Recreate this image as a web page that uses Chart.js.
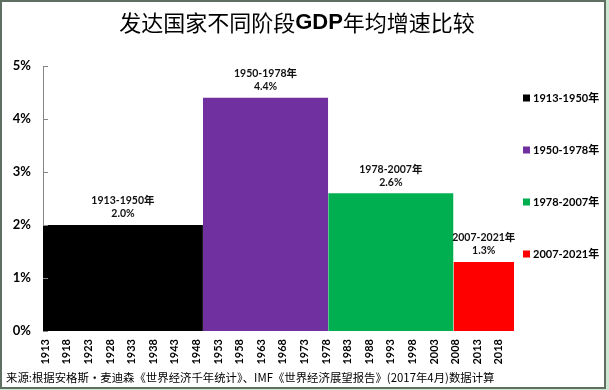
<!DOCTYPE html>
<html lang="zh">
<head>
    <meta charset="UTF-8">
    <title>发达国家不同阶段GDP年均增速比较</title>
    <style>
        body { margin: 0; background: #ffffff; }
    </style>
</head>
<body>
    <canvas id="myChart" width="609" height="390"></canvas>

    <script src="https://cdn.jsdelivr.net/npm/chart.js"></script>
    <script>
        // 数据
        const firstYear = 1913;
        const lastYear = 2021;
        const periods = ['1913-1950', '1950-1978', '1978-2007', '2007-2021'];
        const periodFrom = [1913, 1950, 1979, 2008];
        const periodTo = [1949, 1978, 2007, 2021];
        const growth = [2.0, 4.4, 2.6, 1.3];
        const colors = ['#000000', '#7030A0', '#00B050', '#FF0000'];
        const tickYears = [1913, 1918, 1923, 1928, 1933, 1938, 1943, 1948, 1953, 1958, 1963,
                           1968, 1973, 1978, 1983, 1988, 1993, 1998, 2003, 2008, 2013, 2018];
        const yTicks = [0, 1, 2, 3, 4, 5];
        const source = '来源:根据安格斯·麦迪森《世界经济千年统计》、IMF《世界经济展望报告》(2017年4月)数据计算';

        const FONT = "Lato, 'Noto Sans CJK SC', sans-serif";

        // 每个阶段一块：从起始年的左边到结束年的右边（每年占一格）
        let datasets = periods.map((p, i) => ({
            label: p + '年',
            data: [
                { x: periodFrom[i] - 0.5, y: growth[i] },
                { x: periodTo[i] + 0.5, y: growth[i] },
            ],
            backgroundColor: colors[i],
            borderColor: colors[i],
            borderWidth: 0,
            pointRadius: 0,
            fill: 'origin',
        }));

        // 边框、标题、图例、数据标签、来源
        const decor = {
            id: 'decor',
            beforeDraw(chart) {
                const c = chart.ctx;
                c.save();
                c.fillStyle = '#cce8d0';
                c.fillRect(0, 0, chart.width, chart.height);
                c.fillStyle = '#5f6f61';
                c.fillRect(0, 0, 606, 389);
                c.fillStyle = '#ffffff';
                c.fillRect(2, 2, 602, 385);
                c.restore();
            },
            afterDraw(chart) {
                const c = chart.ctx;
                const area = chart.chartArea;
                const xs = chart.scales.x;
                const ys = chart.scales.y;
                c.save();

                // y轴内侧刻度
                c.strokeStyle = '#868686';
                c.lineWidth = 1;
                yTicks.forEach(v => {
                    const py = Math.round(ys.getPixelForValue(v)) + 0.5;
                    c.beginPath();
                    c.moveTo(area.left, py);
                    c.lineTo(area.left + 5, py);
                    c.stroke();
                });

                // 标题
                const parts = [
                    ['发达国家不同阶段', "22px 'Noto Sans CJK SC'"],
                    ['GDP', "bold 22px 'Liberation Sans'"],
                    ['年均增速比较', "22px 'Noto Sans CJK SC'"],
                ];
                let total = 0;
                parts.forEach(p => { c.font = p[1]; total += c.measureText(p[0]).width; });
                let x = 297 - total / 2;
                c.fillStyle = '#000000';
                c.textBaseline = 'middle';
                c.textAlign = 'left';
                parts.forEach(p => {
                    c.font = p[1];
                    c.fillText(p[0], x, 23);
                    x += c.measureText(p[0]).width;
                });

                // 数据标签
                c.font = 'bold 10.5px ' + FONT;
                c.textAlign = 'center';
                c.fillStyle = '#111111';
                periods.forEach((p, i) => {
                    const cx = xs.getPixelForValue((periodFrom[i] + periodTo[i]) / 2);
                    const top = ys.getPixelForValue(growth[i]);
                    c.fillText(p + '年', cx, top - 24);
                    c.fillText(growth[i].toFixed(1) + '%', cx, top - 11);
                });

                // 图例
                c.font = 'bold 11px ' + FONT;
                c.textAlign = 'left';
                datasets.forEach((ds, i) => {
                    const ly = area.top + 32 + i * 52;
                    c.fillStyle = colors[i];
                    c.fillRect(area.right + 9, ly - 3.5, 7, 7);
                    c.fillStyle = '#000000';
                    c.fillText(ds.label, area.right + 19, ly);
                });

                // 来源
                c.font = "11.4px 'Noto Sans CJK SC'";
                c.fillText(source, 6, 378);

                c.restore();
            }
        };

        const ctx = document.getElementById('myChart');

        let chart = new Chart(ctx, {
            type: 'line',
            data: {
                datasets: datasets,
            },
            options: {
                responsive: false,
                animation: false,
                layout: {
                    padding: { top: 66, left: 0, right: 95, bottom: 0 },
                },
                scales: {
                    x: {
                        type: 'linear',
                        min: firstYear - 0.5,
                        max: lastYear + 0.5,
                        grid: { display: false, drawTicks: false },
                        border: { display: false },
                        ticks: {
                            autoSkip: false,
                            maxRotation: 90,
                            minRotation: 90,
                            padding: 8,
                            color: '#000000',
                            font: { family: FONT, size: 11, weight: 'bold' },
                            callback: (v) => String(v),
                        },
                        afterBuildTicks: (scale) => {
                            scale.ticks = tickYears.map(v => ({ value: v }));
                        },
                        afterFit: (scale) => { scale.height = 59; },
                    },
                    y: {
                        min: 0,
                        max: 5,
                        grid: { display: false, drawTicks: false },
                        border: { display: true, color: '#868686', width: 1 },
                        ticks: {
                            stepSize: 1,
                            padding: 12,
                            color: '#000000',
                            font: { family: FONT, size: 13, weight: 'bold' },
                            callback: (v) => v + '%',
                        },
                        afterFit: (scale) => { scale.width = 43; },
                    },
                },
                plugins: {
                    legend: { display: false },
                    tooltip: { enabled: false },
                },
            },
            plugins: [decor],
        });
    </script>
</body>
</html>
